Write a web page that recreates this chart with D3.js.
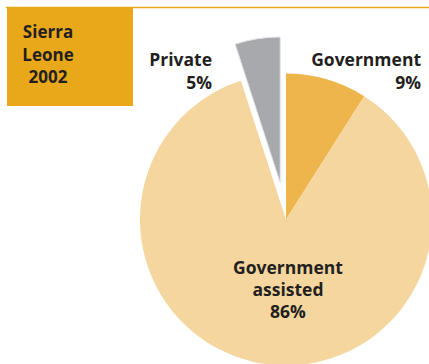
<!DOCTYPE html>
<html>
<head>
<meta charset="utf-8">
<script src="https://cdn.jsdelivr.net/npm/d3@7"></script>
<style>
  html, body { margin: 0; padding: 0; background: #ffffff; }
  svg { display: block; }
  text { font-family: "Open Sans", "Liberation Sans", sans-serif; font-weight: 700; fill: #231f20; }
</style>
</head>
<body>
<svg id="chart" width="429" height="364"></svg>
<script>
// School ownership shares, Sierra Leone 2002 (percent)
const categories = ["Government", "Government assisted", "Private"];
const values = [9, 86, 5];
const labelLines = [["Government", "9%"], ["Government", "assisted", "86%"], ["Private", "5%"]];
const titleLines = ["Sierra", "Leone", "2002"];

const W = 429, H = 364;
const svg = d3.select("#chart");

const colors = d3.scaleOrdinal()
  .domain(categories)
  .range(["#edb54b", "#f5d69f", "#a8a9ad"]);

// Title panel and rule
const gold = "#e9a81a";
svg.append("line")
  .attr("x1", 6).attr("x2", W).attr("y1", 7.5).attr("y2", 7.5)
  .attr("stroke", gold).attr("stroke-width", 1.5);
svg.append("rect")
  .attr("x", 7).attr("y", 8).attr("width", 126).attr("height", 98)
  .attr("fill", gold);
svg.append("text")
  .attr("x", 48).attr("y", 38)
  .attr("text-anchor", "middle")
  .style("font-size", "17px")
  .selectAll("tspan").data(titleLines).join("tspan")
  .attr("x", 48).attr("dy", (d, i) => i === 0 ? 0 : 22.5)
  .text(d => d);

// Pie
const cx = 286, cy = 219.5, R = 146;
const pie = d3.pie().sort(null).value(d => d.value).startAngle(0).endAngle(2 * Math.PI);
const arcs = pie(categories.map((c, i) => ({ category: c, value: values[i] })));
const arc = d3.arc().innerRadius(0).outerRadius(R);
const explode = { "Private": 37 };

const g = svg.append("g").attr("transform", `translate(${cx},${cy})`);
g.selectAll("path").data(arcs).join("path")
  .attr("d", arc)
  .attr("fill", d => colors(d.data.category))
  .attr("stroke", d => explode[d.data.category] ? "#e4e4e6" : "none")
  .attr("stroke-width", 1)
  .attr("transform", d => {
    const off = explode[d.data.category] || 0;
    const a = (d.startAngle + d.endAngle) / 2;
    return `translate(${off * Math.sin(a)},${-off * Math.cos(a)})`;
  });

// Slice labels
const labelPos = {
  "Government": { x: 421, y: 66, anchor: "end", lh: 23 },
  "Government assisted": { x: 288, y: 274, anchor: "middle", lh: 22 },
  "Private": { x: 212, y: 66, anchor: "end", lh: 23 }
};
categories.forEach((c, i) => {
  const p = labelPos[c];
  svg.append("text")
    .attr("x", p.x).attr("y", p.y)
    .attr("text-anchor", p.anchor)
    .style("font-size", "17.5px")
    .selectAll("tspan").data(labelLines[i]).join("tspan")
    .attr("x", p.x).attr("dy", (d, j) => j === 0 ? 0 : p.lh)
    .text(d => d);
});
</script>
</body>
</html>
